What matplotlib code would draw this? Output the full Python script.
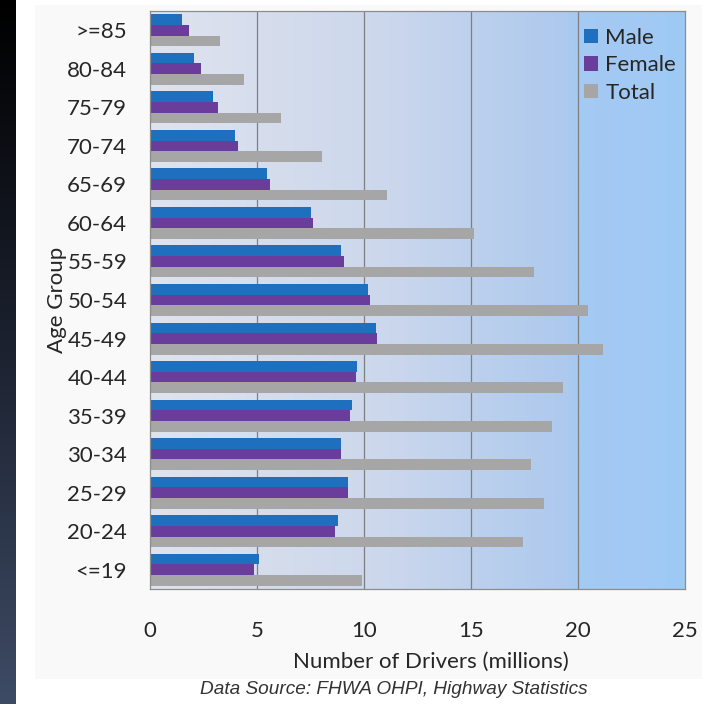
import numpy as np
import matplotlib
matplotlib.use("Agg")
import matplotlib.pyplot as plt
from matplotlib.colors import LinearSegmentedColormap
from matplotlib.patches import Rectangle, Patch

# ---- data (millions of drivers) ----
age_groups = [">=85", "80-84", "75-79", "70-74", "65-69", "60-64", "55-59", "50-54",
              "45-49", "40-44", "35-39", "30-34", "25-29", "20-24", "<=19"]
male   = [1.48, 2.07, 2.96, 3.97, 5.47, 7.51, 8.92, 10.17, 10.56, 9.69, 9.42, 8.92, 9.24, 8.79, 5.09]
female = [1.82, 2.38, 3.16, 4.11, 5.61, 7.64, 9.08, 10.26, 10.62, 9.64, 9.35, 8.92, 9.24, 8.63, 4.85]
total  = [3.25, 4.41, 6.12, 8.04, 11.07, 15.12, 17.96, 20.47, 21.18, 19.31, 18.79, 17.80, 18.41, 17.45, 9.92]
x_ticks = [0, 5, 10, 15, 20, 25]
series_names = ["Male", "Female", "Total"]
series_colors = ["#1f6fbf", "#6a3d9c", "#a6a6a6"]

W, H = 702, 704
fig = plt.figure(figsize=(W / 100, H / 100), dpi=100)
fig.patch.set_facecolor("white")

# background decorations (figure coords)
bg = fig.add_axes([0, 0, 1, 1], zorder=-10)
bg.set_xlim(0, W); bg.set_ylim(H, 0); bg.axis("off")
strip = np.linspace(0, 1, 256).reshape(-1, 1)
strip_cmap = LinearSegmentedColormap.from_list("s", ["#000000", "#1c2230", "#3e4b65"])
bg.imshow(strip, cmap=strip_cmap, extent=[0, 16, H, 0], aspect="auto")
bg.add_patch(Rectangle((35, 5), W - 35, 674, facecolor="#f9f9f9", edgecolor="none"))

# main axes
l, r, t, b = 150, 685, 11, 589
ax = fig.add_axes([l / W, (H - b) / H, (r - l) / W, (b - t) / H])
ax.set_xlim(0, 25)
n = len(age_groups)
ax.set_ylim(n - 0.5, -0.5)

grad = np.linspace(0, 1, 512).reshape(1, -1)
grad_cmap = LinearSegmentedColormap.from_list(
    "g", [(0, "#dfe3ee"), (0.45, "#cbd7ec"), (0.78, "#adc9ee"), (0.8, "#a5c9f2"), (1, "#9fcaf6")])
ax.imshow(grad, cmap=grad_cmap, extent=[0, 25, n - 0.5, -0.5], aspect="auto", zorder=0)

for xv in x_ticks[1:-1]:
    ax.axvline(xv, color="#7f7f7f", lw=0.9, zorder=1)

y = np.arange(n)
bh = 0.277
for vals, off, c, name in zip([male, female, total], [-bh, 0, bh], series_colors, series_names):
    ax.barh(y + off, vals, height=bh, color=c, zorder=2, label=name)

for s in ax.spines.values():
    s.set_color("#8c8c8c"); s.set_linewidth(0.9)

font = "Lato"
fs = 16
tc = "#262626"
ax.set_xticks(x_ticks)
ax.set_xticklabels([str(v) for v in x_ticks], fontsize=fs, family=font, color=tc)
ax.set_yticks(y)
ax.set_yticklabels(age_groups, fontsize=fs, family=font, color=tc)
ax.tick_params(axis="both", length=0)
ax.tick_params(axis="x", pad=23)
ax.tick_params(axis="y", pad=16.5)
ax.set_xlabel("Number of Drivers (millions)", fontsize=fs, family=font, color=tc)
ax.xaxis.set_label_coords((431 - l) / (r - l), -(652 - b) / (b - t))
ax.set_ylabel("Age Group", fontsize=fs, family=font, color=tc, labelpad=0)

handles = [Patch(facecolor=c, edgecolor="none") for c in series_colors]
leg = ax.legend(handles, series_names, loc="upper right", bbox_to_anchor=(1.0, 0.986),
                frameon=False, prop={"family": font, "size": fs},
                handlelength=0.6, handleheight=0.6, handletextpad=0.35, labelspacing=0.33,
                borderaxespad=0.0, borderpad=0.4)
for txt in leg.get_texts():
    txt.set_color(tc)

fig.text(394 / W, 1 - 690 / H, "Data Source: FHWA OHPI, Highway Statistics",
         family="Liberation Sans", style="italic", fontsize=13.7, color="#333333",
         ha="center", va="center")

fig.savefig("out.png", dpi=100)
